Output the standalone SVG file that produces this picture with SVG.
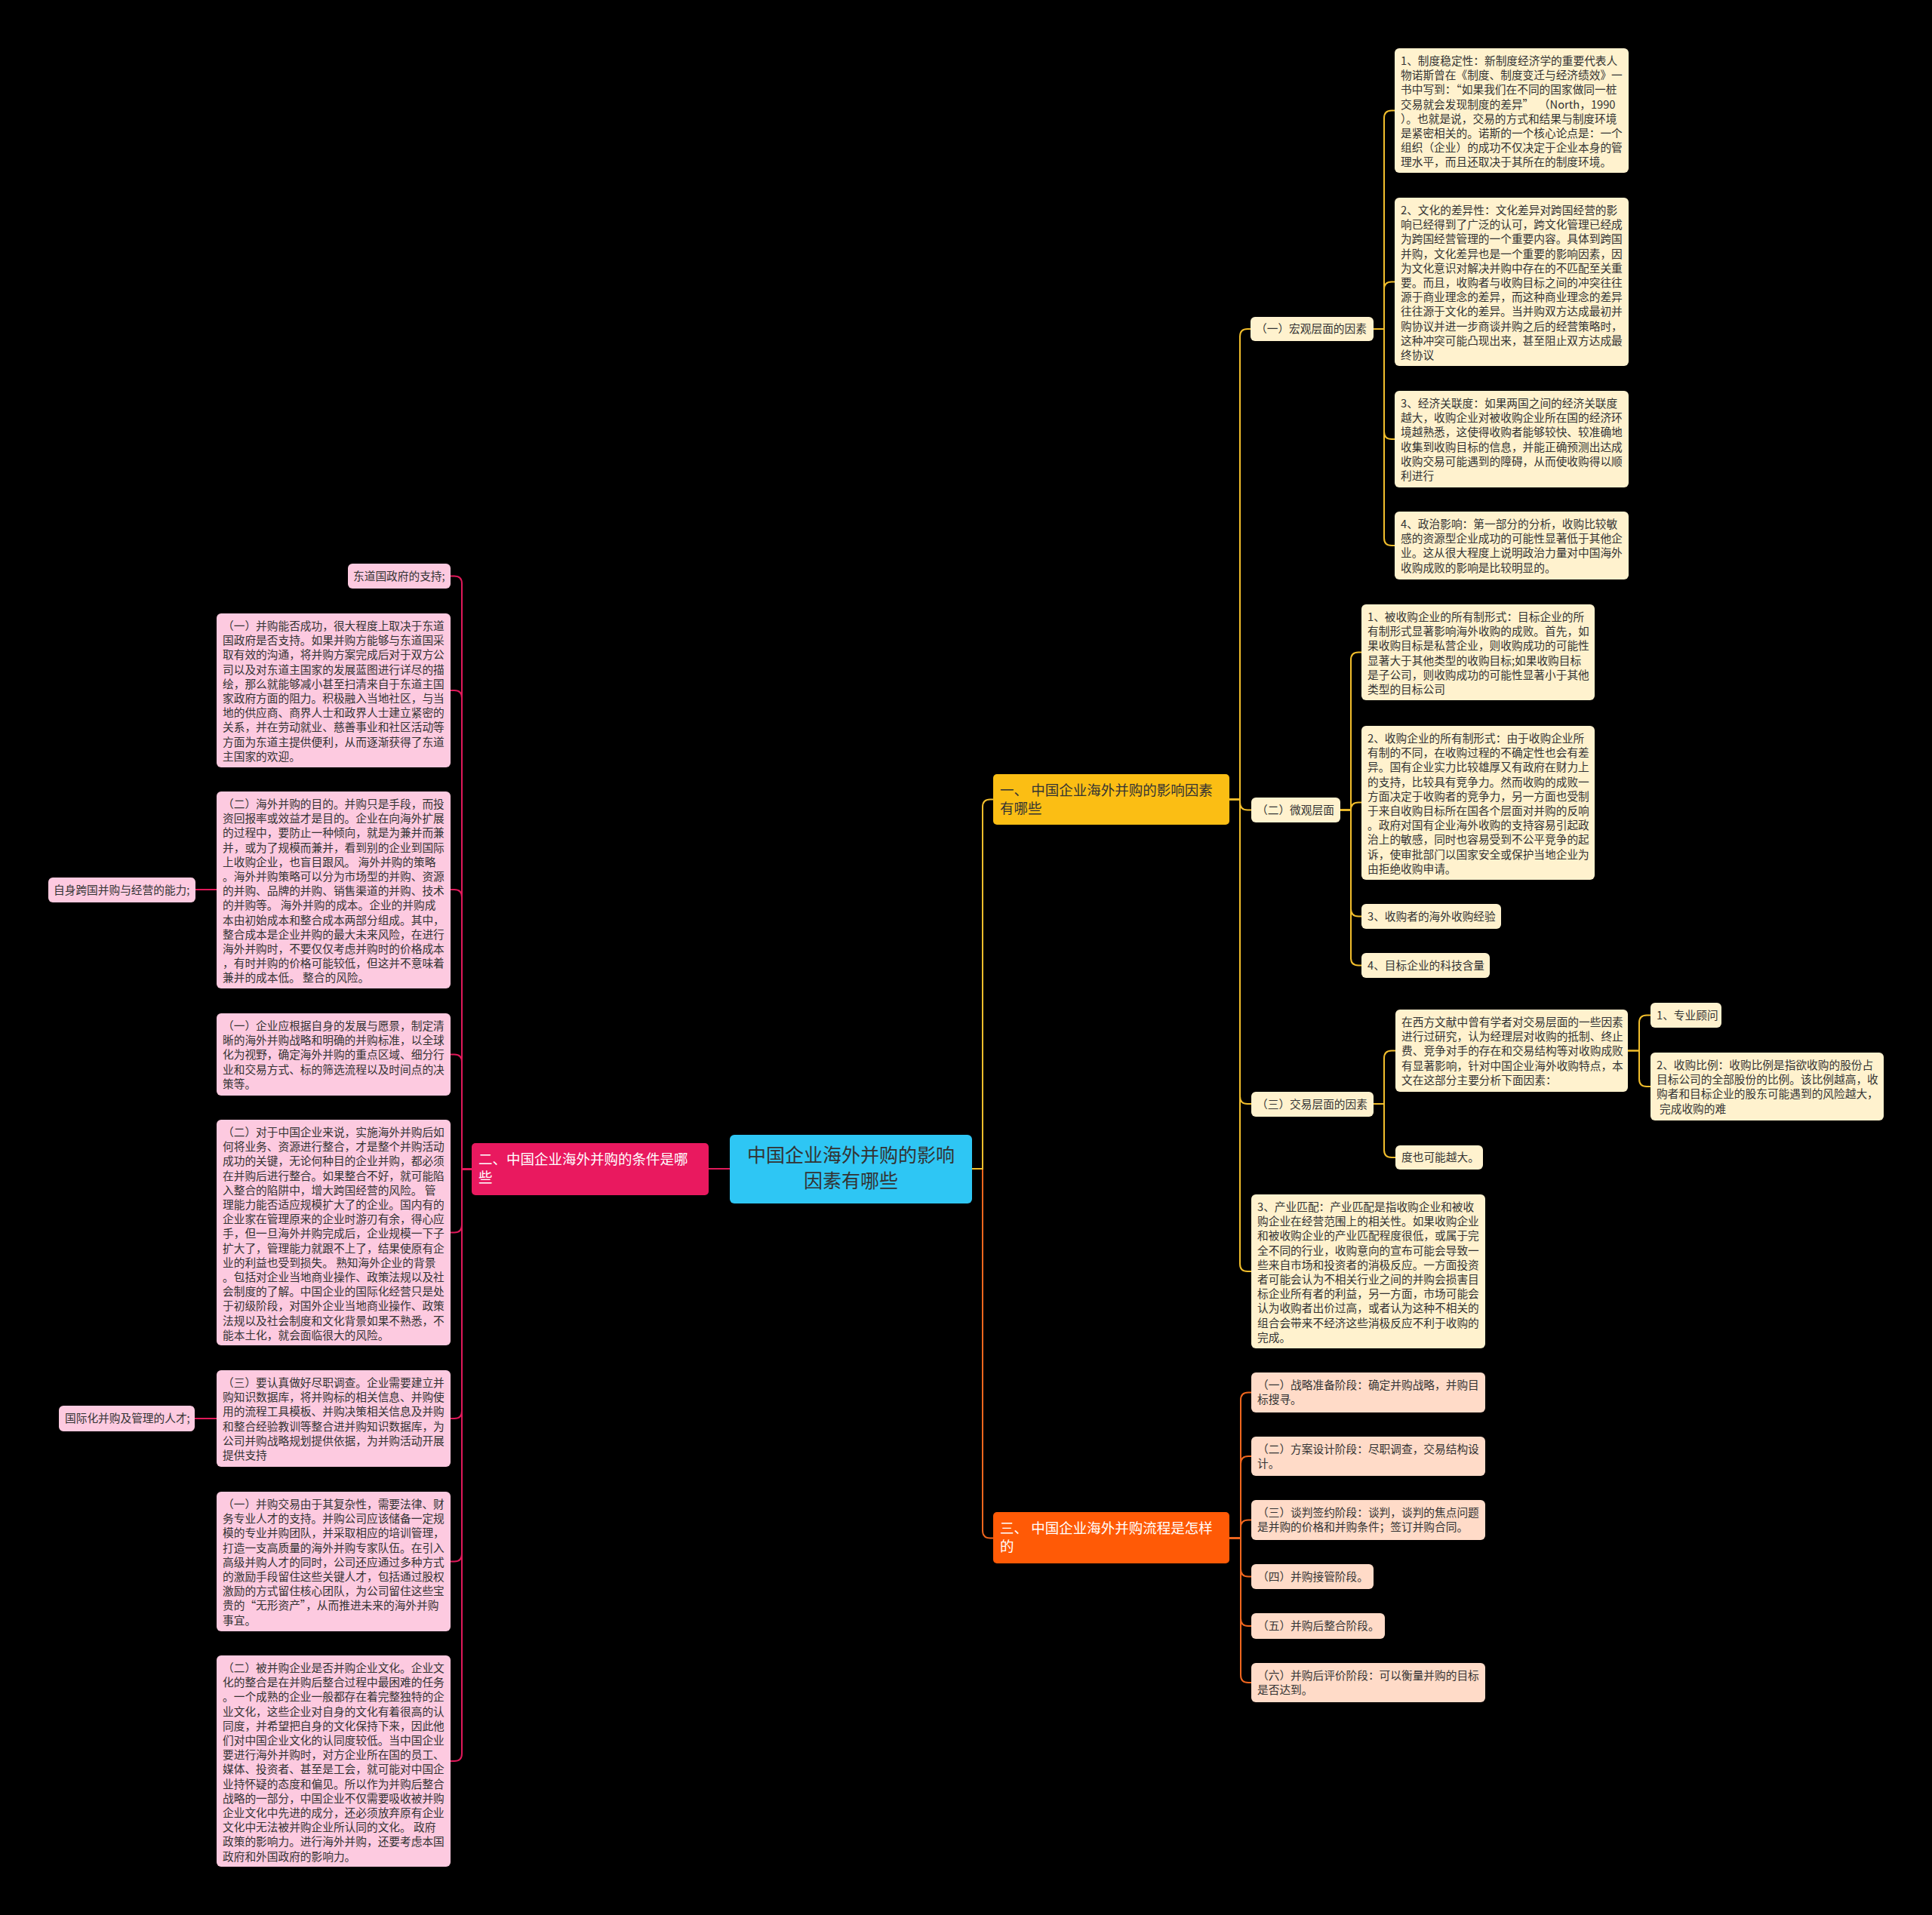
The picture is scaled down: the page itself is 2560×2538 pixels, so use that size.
<svg xmlns="http://www.w3.org/2000/svg" width="2560" height="2538" viewBox="0 0 2560 2538">
<style>
.t{font-family:"Noto Sans CJK SC","Noto Sans",sans-serif;font-size:14.7px;fill:#333}
.br{font-family:"Noto Sans CJK SC","Noto Sans",sans-serif;font-size:18.5px}
.cream{fill:#FFF2CE}
.pink{fill:#FDCAE0}
.peach{fill:#FFDBC8}
.cy{fill:none;stroke:#F2BE2C;stroke-width:2}
.co{fill:none;stroke:#F0661E;stroke-width:2}
.cp{fill:none;stroke:#E0195A;stroke-width:2}
</style>
<rect x="0" y="0" width="2560" height="2538" fill="#000"/>
<g id="connectors">
<path class="co" d="M1288 1549 H1302 V2028.5 Q1302 2038.5 1312 2038.5 H1316"/>
<path class="cy" d="M1288 1549 H1302 V1069.5 Q1302 1059.5 1312 1059.5 H1316"/>
<path class="cp" d="M967 1549 H939"/>
<path class="cy" d="M1629 1059.5 H1643 V446 Q1643 436 1653 436 H1657"/>
<path class="cy" d="M1629 1059.5 H1643 V1063.5 Q1643 1073.5 1653 1073.5 H1658"/>
<path class="cy" d="M1629 1059.5 H1643 V1453 Q1643 1463 1653 1463 H1658"/>
<path class="cy" d="M1629 1059.5 H1643 V1675 Q1643 1685 1653 1685 H1658"/>
<path class="cy" d="M1820 436 H1834 V156.5 Q1834 146.5 1844 146.5 H1848"/>
<path class="cy" d="M1820 436 H1834 V383.5 Q1834 373.5 1844 373.5 H1848"/>
<path class="cy" d="M1820 436 H1834 V572 Q1834 582 1844 582 H1848"/>
<path class="cy" d="M1820 436 H1834 V713 Q1834 723 1844 723 H1848"/>
<path class="cy" d="M1776 1073.5 H1790 V874.5 Q1790 864.5 1800 864.5 H1804"/>
<path class="cy" d="M1776 1073.5 H1790 V1073.5 Q1790 1063.5 1800 1063.5 H1804"/>
<path class="cy" d="M1776 1073.5 H1790 V1204.5 Q1790 1214.5 1800 1214.5 H1804"/>
<path class="cy" d="M1776 1073.5 H1790 V1269.5 Q1790 1279.5 1800 1279.5 H1804"/>
<path class="cy" d="M1820 1463 H1834 V1402.5 Q1834 1392.5 1844 1392.5 H1849"/>
<path class="cy" d="M1820 1463 H1834 V1524 Q1834 1534 1844 1534 H1849"/>
<path class="cy" d="M2157 1392.5 H2172 V1355.5 Q2172 1345.5 2182 1345.5 H2187"/>
<path class="cy" d="M2157 1392.5 H2172 V1430 Q2172 1440 2182 1440 H2187"/>
<path class="co" d="M1629 2038.5 H1644 V1855.5 Q1644 1845.5 1654 1845.5 H1658"/>
<path class="co" d="M1629 2038.5 H1644 V1940 Q1644 1930 1654 1930 H1658"/>
<path class="co" d="M1629 2038.5 H1644 V2024.5 Q1644 2014.5 1654 2014.5 H1658"/>
<path class="co" d="M1629 2038.5 H1644 V2079.5 Q1644 2089.5 1654 2089.5 H1658"/>
<path class="co" d="M1629 2038.5 H1644 V2145 Q1644 2155 1654 2155 H1658"/>
<path class="co" d="M1629 2038.5 H1644 V2220 Q1644 2230 1654 2230 H1658"/>
<path class="cp" d="M625 1549.5 H612 V773.5 Q612 763.5 602 763.5 H597"/>
<path class="cp" d="M625 1549.5 H612 V925 Q612 915 602 915 H597"/>
<path class="cp" d="M625 1549.5 H612 V1189 Q612 1179 602 1179 H597"/>
<path class="cp" d="M625 1549.5 H612 V1407.5 Q612 1397.5 602 1397.5 H597"/>
<path class="cp" d="M625 1549.5 H612 V1623.5 Q612 1633.5 602 1633.5 H597"/>
<path class="cp" d="M625 1549.5 H612 V1870 Q612 1880 602 1880 H597"/>
<path class="cp" d="M625 1549.5 H612 V2059.5 Q612 2069.5 602 2069.5 H597"/>
<path class="cp" d="M625 1549.5 H612 V2324 Q612 2334 602 2334 H597"/>
<path class="cp" d="M287 1179 H259"/>
<path class="cp" d="M287 1880 H258"/>
</g>

<g id="center">
<rect x="967" y="1504" width="321" height="91" rx="6" fill="#2EC6F4"/>
<text class="br" style="font-size:25px;fill:#333" text-anchor="middle"><tspan x="1127.5" y="1540">中国企业海外并购的影响</tspan><tspan x="1127.5" y="1574">因素有哪些</tspan></text>
</g>

<g id="branch1">
<rect x="1316" y="1026" width="313" height="67" rx="5" fill="#FBBE14"/>
<text class="br" style="fill:#333"><tspan x="1325" y="1054">一、 中国企业海外并购的影响因素</tspan><tspan x="1325" y="1078">有哪些</tspan></text>
</g>
<g id="branch2">
<rect x="625" y="1515" width="314" height="69" rx="5" fill="#E9195F"/>
<text class="br" style="fill:#fff"><tspan x="634" y="1543">二、中国企业海外并购的条件是哪</tspan><tspan x="634" y="1567">些</tspan></text>
</g>
<g id="branch3">
<rect x="1316" y="2004" width="313" height="68" rx="5" fill="#FF5A06"/>
<text class="br" style="fill:#fff"><tspan x="1325" y="2032">三、 中国企业海外并购流程是怎样</tspan><tspan x="1325" y="2056">的</tspan></text>
</g>

<g id="macro">
<rect class="cream" x="1657" y="420" width="163" height="32" rx="6"/>
<text class="t" x="1664" y="441">（一）宏观层面的因素</text>
</g>
<g id="macro1">
<rect class="cream" x="1848" y="64" width="310" height="165" rx="6"/>
<text class="t" xml:space="preserve"><tspan x="1856" y="86">1、制度稳定性：新制度经济学的重要代表人</tspan><tspan x="1856" dy="19.2">物诺斯曾在《制度、制度变迁与经济绩效》一</tspan><tspan x="1856" dy="19.2">书中写到：“如果我们在不同的国家做同一桩</tspan><tspan x="1856" dy="19.2">交易就会发现制度的差异”  （North，1990</tspan><tspan x="1856" dy="19.2">）。也就是说，交易的方式和结果与制度环境</tspan><tspan x="1856" dy="19.2">是紧密相关的。诺斯的一个核心论点是：一个</tspan><tspan x="1856" dy="19.2">组织（企业）的成功不仅决定于企业本身的管</tspan><tspan x="1856" dy="19.2">理水平，而且还取决于其所在的制度环境。</tspan></text>
</g>
<g id="macro2">
<rect class="cream" x="1848" y="262" width="310" height="223" rx="6"/>
<text class="t"><tspan x="1856" y="284">2、文化的差异性：文化差异对跨国经营的影</tspan><tspan x="1856" dy="19.2">响已经得到了广泛的认可，跨文化管理已经成</tspan><tspan x="1856" dy="19.2">为跨国经营管理的一个重要内容。具体到跨国</tspan><tspan x="1856" dy="19.2">并购，文化差异也是一个重要的影响因素，因</tspan><tspan x="1856" dy="19.2">为文化意识对解决并购中存在的不匹配至关重</tspan><tspan x="1856" dy="19.2">要。而且，收购者与收购目标之间的冲突往往</tspan><tspan x="1856" dy="19.2">源于商业理念的差异，而这种商业理念的差异</tspan><tspan x="1856" dy="19.2">往往源于文化的差异。当并购双方达成最初并</tspan><tspan x="1856" dy="19.2">购协议并进一步商谈并购之后的经营策略时，</tspan><tspan x="1856" dy="19.2">这种冲突可能凸现出来，甚至阻止双方达成最</tspan><tspan x="1856" dy="19.2">终协议</tspan></text>
</g>
<g id="macro3">
<rect class="cream" x="1848" y="518" width="310" height="128" rx="6"/>
<text class="t"><tspan x="1856" y="540">3、经济关联度：如果两国之间的经济关联度</tspan><tspan x="1856" dy="19.2">越大，收购企业对被收购企业所在国的经济环</tspan><tspan x="1856" dy="19.2">境越熟悉，这使得收购者能够较快、较准确地</tspan><tspan x="1856" dy="19.2">收集到收购目标的信息，并能正确预测出达成</tspan><tspan x="1856" dy="19.2">收购交易可能遇到的障碍，从而使收购得以顺</tspan><tspan x="1856" dy="19.2">利进行</tspan></text>
</g>
<g id="macro4">
<rect class="cream" x="1848" y="678" width="310" height="90" rx="6"/>
<text class="t"><tspan x="1856" y="700">4、政治影响：第一部分的分析，收购比较敏</tspan><tspan x="1856" dy="19.2">感的资源型企业成功的可能性显著低于其他企</tspan><tspan x="1856" dy="19.2">业。这从很大程度上说明政治力量对中国海外</tspan><tspan x="1856" dy="19.2">收购成败的影响是比较明显的。</tspan></text>
</g>

<g id="micro">
<rect class="cream" x="1658" y="1057" width="118" height="33" rx="6"/>
<text class="t" x="1665" y="1079">（二）微观层面</text>
</g>
<g id="micro1">
<rect class="cream" x="1804" y="801" width="309" height="127" rx="6"/>
<text class="t"><tspan x="1812" y="823">1、被收购企业的所有制形式：目标企业的所</tspan><tspan x="1812" dy="19.2">有制形式显著影响海外收购的成败。首先，如</tspan><tspan x="1812" dy="19.2">果收购目标是私营企业，则收购成功的可能性</tspan><tspan x="1812" dy="19.2">显著大于其他类型的收购目标;如果收购目标</tspan><tspan x="1812" dy="19.2">是子公司，则收购成功的可能性显著小于其他</tspan><tspan x="1812" dy="19.2">类型的目标公司</tspan></text>
</g>
<g id="micro2">
<rect class="cream" x="1804" y="962" width="309" height="204" rx="6"/>
<text class="t"><tspan x="1812" y="984">2、收购企业的所有制形式：由于收购企业所</tspan><tspan x="1812" dy="19.2">有制的不同，在收购过程的不确定性也会有差</tspan><tspan x="1812" dy="19.2">异。国有企业实力比较雄厚又有政府在财力上</tspan><tspan x="1812" dy="19.2">的支持，比较具有竞争力。然而收购的成败一</tspan><tspan x="1812" dy="19.2">方面决定于收购者的竞争力，另一方面也受制</tspan><tspan x="1812" dy="19.2">于来自收购目标所在国各个层面对并购的反响</tspan><tspan x="1812" dy="19.2">。政府对国有企业海外收购的支持容易引起政</tspan><tspan x="1812" dy="19.2">治上的敏感，同时也容易受到不公平竞争的起</tspan><tspan x="1812" dy="19.2">诉，使审批部门以国家安全或保护当地企业为</tspan><tspan x="1812" dy="19.2">由拒绝收购申请。</tspan></text>
</g>
<g id="micro3">
<rect class="cream" x="1804" y="1198" width="185" height="33" rx="6"/>
<text class="t" x="1812" y="1220">3、收购者的海外收购经验</text>
</g>
<g id="micro4">
<rect class="cream" x="1804" y="1263" width="170" height="33" rx="6"/>
<text class="t" x="1812" y="1285">4、目标企业的科技含量</text>
</g>

<g id="trade">
<rect class="cream" x="1658" y="1447" width="162" height="33" rx="6"/>
<text class="t" x="1665" y="1469">（三）交易层面的因素</text>
</g>
<g id="trade1">
<rect class="cream" x="1849" y="1338" width="308" height="109" rx="6"/>
<text class="t"><tspan x="1857" y="1360">在西方文献中曾有学者对交易层面的一些因素</tspan><tspan x="1857" dy="19.2">进行过研究，认为经理层对收购的抵制、终止</tspan><tspan x="1857" dy="19.2">费、竞争对手的存在和交易结构等对收购成败</tspan><tspan x="1857" dy="19.2">有显著影响，针对中国企业海外收购特点，本</tspan><tspan x="1857" dy="19.2">文在这部分主要分析下面因素：</tspan></text>
</g>
<g id="trade2">
<rect class="cream" x="1849" y="1518" width="116" height="32" rx="6"/>
<text class="t" x="1857" y="1539">度也可能越大。</text>
</g>
<g id="advisor">
<rect class="cream" x="2187" y="1329" width="94" height="33" rx="6"/>
<text class="t" x="2195" y="1351">1、专业顾问</text>
</g>
<g id="ratio">
<rect class="cream" x="2187" y="1395" width="309" height="90" rx="6"/>
<text class="t"><tspan x="2195" y="1417">2、收购比例：收购比例是指欲收购的股份占</tspan><tspan x="2195" dy="19.2">目标公司的全部股份的比例。该比例越高，收</tspan><tspan x="2195" dy="19.2">购者和目标企业的股东可能遇到的风险越大，</tspan><tspan x="2199" dy="19.2">完成收购的难</tspan></text>
</g>

<g id="industry">
<rect class="cream" x="1658" y="1583" width="310" height="204" rx="6"/>
<text class="t"><tspan x="1666" y="1605">3、产业匹配：产业匹配是指收购企业和被收</tspan><tspan x="1666" dy="19.2">购企业在经营范围上的相关性。如果收购企业</tspan><tspan x="1666" dy="19.2">和被收购企业的产业匹配程度很低，或属于完</tspan><tspan x="1666" dy="19.2">全不同的行业，收购意向的宣布可能会导致一</tspan><tspan x="1666" dy="19.2">些来自市场和投资者的消极反应。一方面投资</tspan><tspan x="1666" dy="19.2">者可能会认为不相关行业之间的并购会损害目</tspan><tspan x="1666" dy="19.2">标企业所有者的利益，另一方面，市场可能会</tspan><tspan x="1666" dy="19.2">认为收购者出价过高，或者认为这种不相关的</tspan><tspan x="1666" dy="19.2">组合会带来不经济这些消极反应不利于收购的</tspan><tspan x="1666" dy="19.2">完成。</tspan></text>
</g>

<g id="stage1">
<rect class="peach" x="1658" y="1819" width="310" height="53" rx="6"/>
<text class="t"><tspan x="1666" y="1841">（一）战略准备阶段：确定并购战略，并购目</tspan><tspan x="1666" dy="19.2">标搜寻。</tspan></text>
</g>
<g id="stage2">
<rect class="peach" x="1658" y="1904" width="310" height="52" rx="6"/>
<text class="t"><tspan x="1666" y="1926">（二）方案设计阶段：尽职调查，交易结构设</tspan><tspan x="1666" dy="19.2">计。</tspan></text>
</g>
<g id="stage3">
<rect class="peach" x="1658" y="1988" width="310" height="53" rx="6"/>
<text class="t"><tspan x="1666" y="2010">（三）谈判签约阶段：谈判，谈判的焦点问题</tspan><tspan x="1666" dy="19.2">是并购的价格和并购条件；签订并购合同。</tspan></text>
</g>
<g id="stage4">
<rect class="peach" x="1658" y="2073" width="162" height="33" rx="6"/>
<text class="t" x="1666" y="2095">（四）并购接管阶段。</text>
</g>
<g id="stage5">
<rect class="peach" x="1658" y="2138" width="177" height="34" rx="6"/>
<text class="t" x="1666" y="2160">（五）并购后整合阶段。</text>
</g>
<g id="stage6">
<rect class="peach" x="1658" y="2204" width="310" height="52" rx="6"/>
<text class="t"><tspan x="1666" y="2226">（六）并购后评价阶段：可以衡量并购的目标</tspan><tspan x="1666" dy="19.2">是否达到。</tspan></text>
</g>

<g id="host">
<rect class="pink" x="461" y="747" width="136" height="33" rx="6"/>
<text class="t" x="468" y="769">东道国政府的支持;</text>
</g>
<g id="left1">
<rect class="pink" x="287" y="813" width="310" height="204" rx="6"/>
<text class="t"><tspan x="295" y="835">（一）并购能否成功，很大程度上取决于东道</tspan><tspan x="295" dy="19.2">国政府是否支持。如果并购方能够与东道国采</tspan><tspan x="295" dy="19.2">取有效的沟通，将并购方案完成后对于双方公</tspan><tspan x="295" dy="19.2">司以及对东道主国家的发展蓝图进行详尽的描</tspan><tspan x="295" dy="19.2">绘，那么就能够减小甚至扫清来自于东道主国</tspan><tspan x="295" dy="19.2">家政府方面的阻力。积极融入当地社区，与当</tspan><tspan x="295" dy="19.2">地的供应商、商界人士和政界人士建立紧密的</tspan><tspan x="295" dy="19.2">关系，并在劳动就业、慈善事业和社区活动等</tspan><tspan x="295" dy="19.2">方面为东道主提供便利，从而逐渐获得了东道</tspan><tspan x="295" dy="19.2">主国家的欢迎。</tspan></text>
</g>
<g id="left2">
<rect class="pink" x="287" y="1049" width="310" height="261" rx="6"/>
<text class="t"><tspan x="295" y="1071">（二）海外并购的目的。并购只是手段，而投</tspan><tspan x="295" dy="19.2">资回报率或效益才是目的。企业在向海外扩展</tspan><tspan x="295" dy="19.2">的过程中，要防止一种倾向，就是为兼并而兼</tspan><tspan x="295" dy="19.2">并，或为了规模而兼并，看到别的企业到国际</tspan><tspan x="295" dy="19.2">上收购企业，也盲目跟风。 海外并购的策略</tspan><tspan x="295" dy="19.2">。海外并购策略可以分为市场型的并购、资源</tspan><tspan x="295" dy="19.2">的并购、品牌的并购、销售渠道的并购、技术</tspan><tspan x="295" dy="19.2">的并购等。 海外并购的成本。企业的并购成</tspan><tspan x="295" dy="19.2">本由初始成本和整合成本两部分组成。其中，</tspan><tspan x="295" dy="19.2">整合成本是企业并购的最大未来风险，在进行</tspan><tspan x="295" dy="19.2">海外并购时，不要仅仅考虑并购时的价格成本</tspan><tspan x="295" dy="19.2">，有时并购的价格可能较低，但这并不意味着</tspan><tspan x="295" dy="19.2">兼并的成本低。 整合的风险。</tspan></text>
</g>
<g id="self">
<rect class="pink" x="64" y="1163" width="195" height="33" rx="6"/>
<text class="t" x="71" y="1185">自身跨国并购与经营的能力;</text>
</g>
<g id="left3">
<rect class="pink" x="287" y="1343" width="310" height="109" rx="6"/>
<text class="t"><tspan x="295" y="1365">（一）企业应根据自身的发展与愿景，制定清</tspan><tspan x="295" dy="19.2">晰的海外并购战略和明确的并购标准，以全球</tspan><tspan x="295" dy="19.2">化为视野，确定海外并购的重点区域、细分行</tspan><tspan x="295" dy="19.2">业和交易方式、标的筛选流程以及时间点的决</tspan><tspan x="295" dy="19.2">策等。</tspan></text>
</g>
<g id="left4">
<rect class="pink" x="287" y="1484" width="310" height="299" rx="6"/>
<text class="t"><tspan x="295" y="1506">（二）对于中国企业来说，实施海外并购后如</tspan><tspan x="295" dy="19.2">何将业务、资源进行整合，才是整个并购活动</tspan><tspan x="295" dy="19.2">成功的关键，无论何种目的企业并购，都必须</tspan><tspan x="295" dy="19.2">在并购后进行整合。如果整合不好，就可能陷</tspan><tspan x="295" dy="19.2">入整合的陷阱中，增大跨国经营的风险。 管</tspan><tspan x="295" dy="19.2">理能力能否适应规模扩大了的企业。国内有的</tspan><tspan x="295" dy="19.2">企业家在管理原来的企业时游刃有余，得心应</tspan><tspan x="295" dy="19.2">手，但一旦海外并购完成后，企业规模一下子</tspan><tspan x="295" dy="19.2">扩大了，管理能力就跟不上了，结果使原有企</tspan><tspan x="295" dy="19.2">业的利益也受到损失。 熟知海外企业的背景</tspan><tspan x="295" dy="19.2">。包括对企业当地商业操作、政策法规以及社</tspan><tspan x="295" dy="19.2">会制度的了解。中国企业的国际化经营只是处</tspan><tspan x="295" dy="19.2">于初级阶段，对国外企业当地商业操作、政策</tspan><tspan x="295" dy="19.2">法规以及社会制度和文化背景如果不熟悉，不</tspan><tspan x="295" dy="19.2">能本土化，就会面临很大的风险。</tspan></text>
</g>
<g id="left5">
<rect class="pink" x="287" y="1816" width="310" height="128" rx="6"/>
<text class="t"><tspan x="295" y="1838">（三）要认真做好尽职调查。企业需要建立并</tspan><tspan x="295" dy="19.2">购知识数据库，将并购标的相关信息、并购使</tspan><tspan x="295" dy="19.2">用的流程工具模板、并购决策相关信息及并购</tspan><tspan x="295" dy="19.2">和整合经验教训等整合进并购知识数据库，为</tspan><tspan x="295" dy="19.2">公司并购战略规划提供依据，为并购活动开展</tspan><tspan x="295" dy="19.2">提供支持</tspan></text>
</g>
<g id="talent">
<rect class="pink" x="78" y="1863" width="180" height="34" rx="6"/>
<text class="t" x="86" y="1885">国际化并购及管理的人才;</text>
</g>
<g id="left6">
<rect class="pink" x="287" y="1977" width="310" height="185" rx="6"/>
<text class="t"><tspan x="295" y="1999">（一）并购交易由于其复杂性，需要法律、财</tspan><tspan x="295" dy="19.2">务专业人才的支持。并购公司应该储备一定规</tspan><tspan x="295" dy="19.2">模的专业并购团队，并采取相应的培训管理，</tspan><tspan x="295" dy="19.2">打造一支高质量的海外并购专家队伍。在引入</tspan><tspan x="295" dy="19.2">高级并购人才的同时，公司还应通过多种方式</tspan><tspan x="295" dy="19.2">的激励手段留住这些关键人才，包括通过股权</tspan><tspan x="295" dy="19.2">激励的方式留住核心团队，为公司留住这些宝</tspan><tspan x="295" dy="19.2">贵的“无形资产”，从而推进未来的海外并购</tspan><tspan x="295" dy="19.2">事宜。</tspan></text>
</g>
<g id="left7">
<rect class="pink" x="287" y="2194" width="310" height="280" rx="6"/>
<text class="t"><tspan x="295" y="2216">（二）被并购企业是否并购企业文化。企业文</tspan><tspan x="295" dy="19.2">化的整合是在并购后整合过程中最困难的任务</tspan><tspan x="295" dy="19.2">。一个成熟的企业一般都存在着完整独特的企</tspan><tspan x="295" dy="19.2">业文化，这些企业对自身的文化有着很高的认</tspan><tspan x="295" dy="19.2">同度，并希望把自身的文化保持下来，因此他</tspan><tspan x="295" dy="19.2">们对中国企业文化的认同度较低。当中国企业</tspan><tspan x="295" dy="19.2">要进行海外并购时，对方企业所在国的员工、</tspan><tspan x="295" dy="19.2">媒体、投资者、甚至是工会，就可能对中国企</tspan><tspan x="295" dy="19.2">业持怀疑的态度和偏见。所以作为并购后整合</tspan><tspan x="295" dy="19.2">战略的一部分，中国企业不仅需要吸收被并购</tspan><tspan x="295" dy="19.2">企业文化中先进的成分，还必须放弃原有企业</tspan><tspan x="295" dy="19.2">文化中无法被并购企业所认同的文化。 政府</tspan><tspan x="295" dy="19.2">政策的影响力。进行海外并购，还要考虑本国</tspan><tspan x="295" dy="19.2">政府和外国政府的影响力。</tspan></text>
</g>
</svg>
